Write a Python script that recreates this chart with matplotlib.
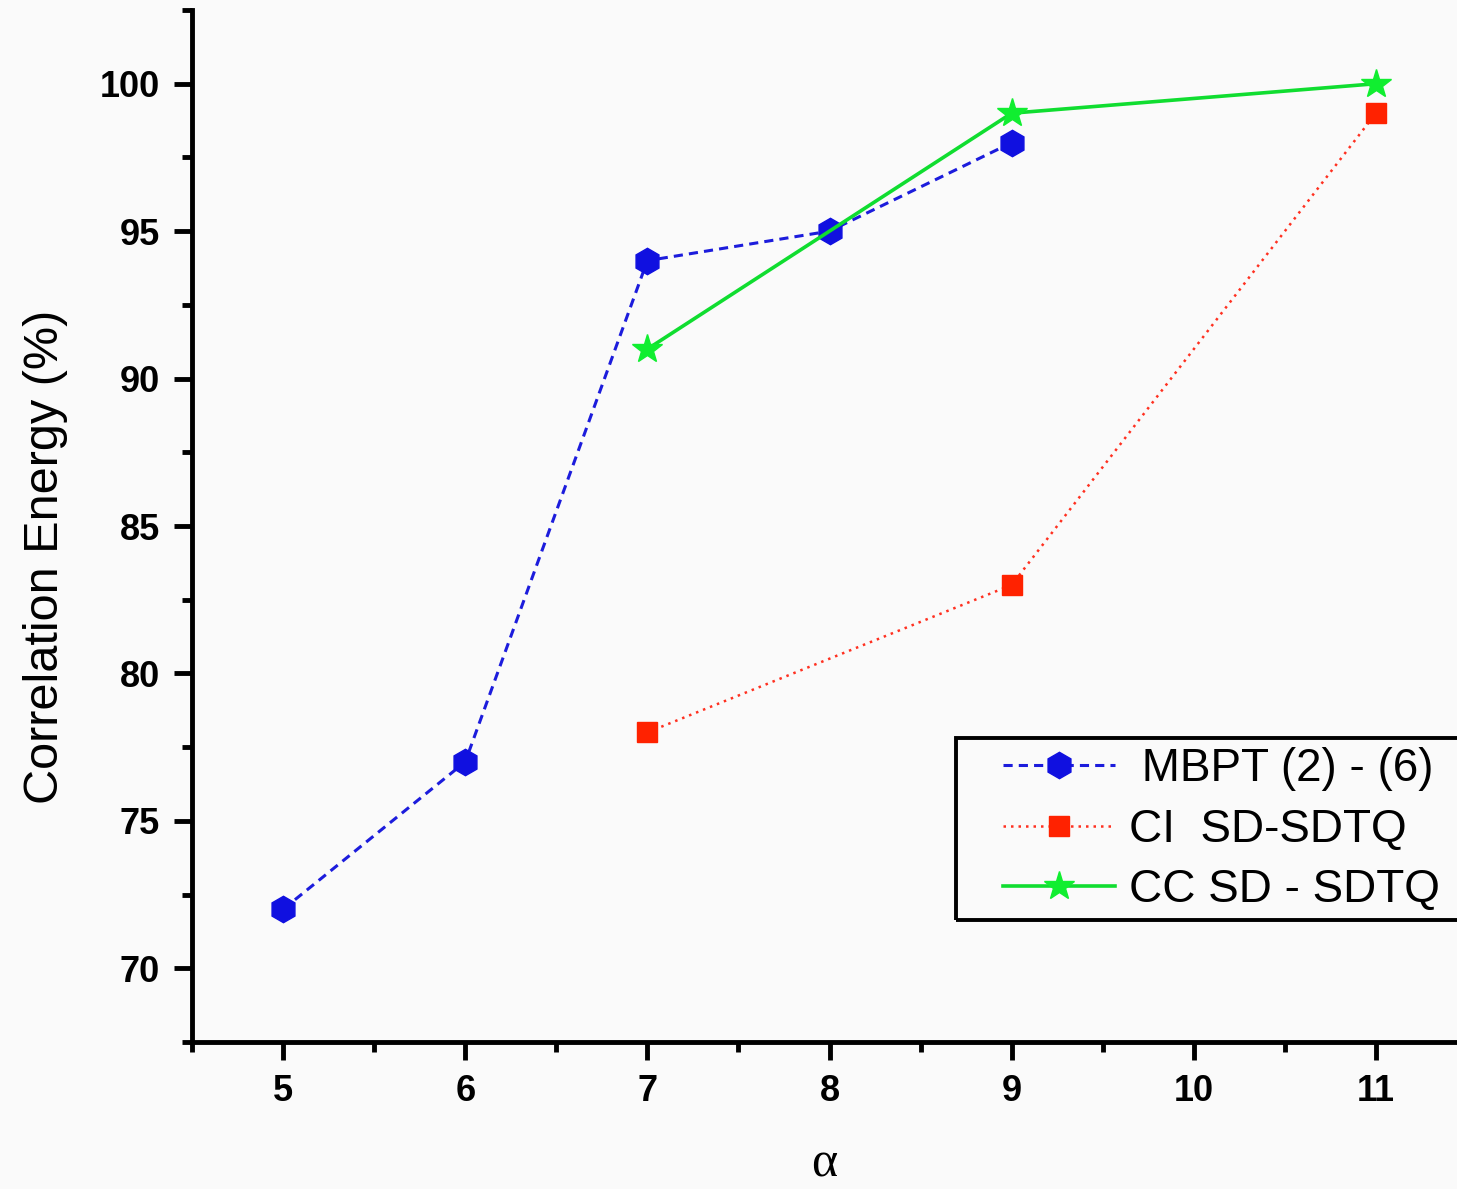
import matplotlib
matplotlib.use("Agg")
import matplotlib.pyplot as plt
from matplotlib.ticker import MultipleLocator
from matplotlib.patches import Rectangle

# Data
mbpt_x = [5, 6, 7, 8, 9]
mbpt_y = [72, 77, 94, 95, 98]
ci_x = [7, 9, 11]
ci_y = [78, 83, 99]
cc_x = [7, 9, 11]
cc_y = [91, 99, 100]
labels = [" MBPT (2) - (6)", "CI  SD-SDTQ", "CC SD - SDTQ"]
x_ticks = [5, 6, 7, 8, 9, 10, 11]
y_ticks = [70, 75, 80, 85, 90, 95, 100]

plt.rcParams['font.family'] = ['Liberation Sans', 'DejaVu Sans']

W, H = 1457, 1189
fig = plt.figure(figsize=(W/100, H/100), dpi=100, facecolor='#fafafa')
ax = fig.add_axes([192/W, 1 - 1042/H, 1 - 192/W, (1042 - 10)/H])
ax.set_facecolor('#fafafa')

ax.plot(mbpt_x, mbpt_y, color='#1c1cdc', linestyle=(0, (3, 2)), linewidth=2.2,
        marker='h', markersize=19, markerfacecolor='#1010e0', markeredgecolor='#1010e0',
        label=labels[0])
ax.plot(ci_x, ci_y, color='#ff3020', linestyle=(0, (1, 2)), linewidth=1.8,
        marker='s', markersize=15, markerfacecolor='#ff2200', markeredgecolor='#ff2200',
        label=labels[1])
ax.plot(cc_x, cc_y, color='#10dd30', linestyle='-', linewidth=2.6,
        marker='*', markersize=22, markerfacecolor='#10ee30', markeredgecolor='#10ee30',
        label=labels[2])

ax.set_xlim(4.5, 11 + 81/182)
ax.set_ylim(67.5, 102.5)
ax.set_xticks(x_ticks)
ax.set_yticks(y_ticks)
ax.xaxis.set_minor_locator(MultipleLocator(0.5))
ax.yaxis.set_minor_locator(MultipleLocator(2.5))

for s in ['top', 'right']:
    ax.spines[s].set_visible(False)
for s in ['left', 'bottom']:
    ax.spines[s].set_linewidth(3.5)

ax.tick_params(which='major', direction='out', length=13, width=3.5, labelsize=26, pad=10)
ax.tick_params(which='minor', direction='out', length=7, width=3.5)
for lab in ax.get_xticklabels() + ax.get_yticklabels():
    lab.set_fontweight('bold')

ax.set_ylabel("Correlation Energy (%)", fontsize=35)
ax.yaxis.set_label_coords(-0.098, (1042 - 557) / 1032)
ax.set_xlabel("α", fontsize=36, family=['Liberation Serif', 'DejaVu Serif'], labelpad=23)

# legend frame (box extends past the right edge of the figure)
x0 = (956 - 192) / (W - 192)
y0 = (1042 - 920) / 1032
y1 = (1042 - 738) / 1032
ax.add_patch(Rectangle((x0, y0), 1.2, y1 - y0, transform=ax.transAxes,
                       facecolor='none', edgecolor='black', linewidth=2.8,
                       clip_on=False, zorder=5))

hx = (1003 - 192) / (W - 192)
leg = ax.legend(loc='upper left', bbox_to_anchor=(hx, y1 - 0.009), fontsize=33,
                frameon=False, handlelength=2.45, handletextpad=0.3, labelspacing=0.36,
                borderpad=0.0, borderaxespad=0)

fig.savefig("out.png", dpi=100, facecolor=fig.get_facecolor())
